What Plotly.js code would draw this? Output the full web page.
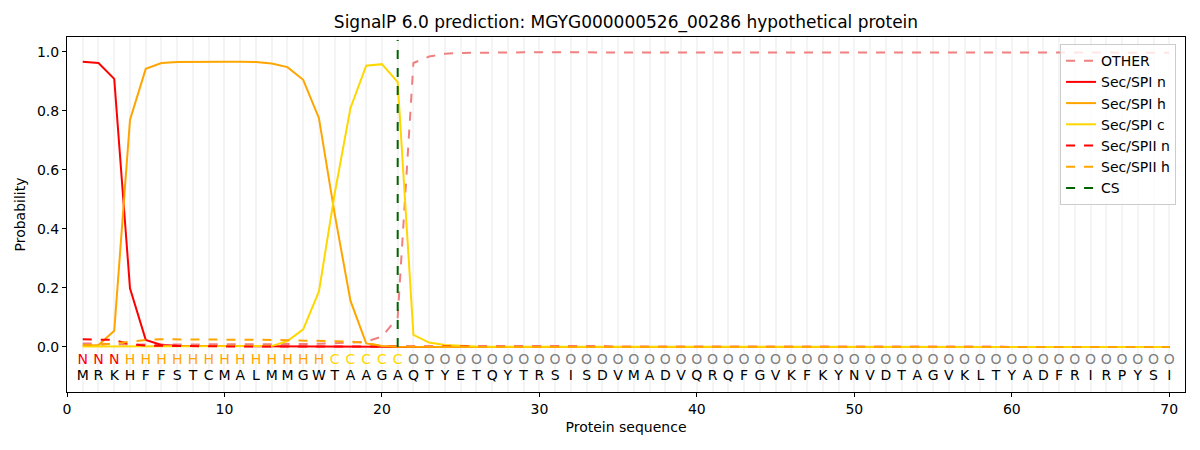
<!DOCTYPE html>
<html>
<head>
<meta charset="utf-8">
<script src="https://cdn.plot.ly/plotly-3.0.1.min.js"></script>
<style>html,body{margin:0;padding:0;background:#fff;}#chart{width:1200px;height:450px;}</style>
</head>
<body>
<div id="chart"></div>
<script>
const sequence = "MRKHFFSTCMALMMGWTAAGAQTYETQYTRSISDVMADVQRQFGVKFKYNVDTAGVKLTYADFRIRPYSI".split("");
const labels = "NNNHHHHHHHHHHHHHCCCCCOOOOOOOOOOOOOOOOOOOOOOOOOOOOOOOOOOOOOOOOOOOOOOOOO".split("");
const positions = sequence.map((_, i) => i + 1);

const other = [0.012,0.012,0.010,0.008,0.008,0.008,0.008,0.009,0.009,0.009,
  0.010,0.010,0.010,0.010,0.010,0.011,0.012,0.015,0.018,0.035,
  0.100,0.962,0.984,0.993,0.996,0.997,0.998,0.998,0.998,0.998,
  0.998,0.998,0.998,0.998,0.998,0.998,0.998,0.998,0.998,0.998,
  0.998,0.998,0.998,0.998,0.998,0.998,0.998,0.998,0.998,0.998,
  0.998,0.998,0.998,0.998,0.998,0.998,0.998,0.998,0.998,0.998,
  0.998,0.998,0.997,0.997,0.997,0.997,0.997,0.997,0.997,0.997];
const spiN = [0.966,0.962,0.908,0.199,0.024,0.007,0.004,0.003,0.003,0.003,
  0.003,0.003,0.003,0.003,0.003,0.003,0.002,0.002,0.002,0.001,
  0.000,0,0,0,0,0,0,0,0,0,0,0,0,0,0,0,0,0,0,0,0,0,0,0,0,0,0,0,0,0,
  0,0,0,0,0,0,0,0,0,0,0,0,0,0,0,0,0,0,0,0];
const spiH = [0.003,0.007,0.055,0.769,0.942,0.962,0.965,0.966,0.966,0.966,
  0.966,0.965,0.960,0.948,0.905,0.775,0.450,0.157,0.012,0.003,
  0.001,0,0,0,0,0,0,0,0,0,0,0,0,0,0,0,0,0,0,0,0,0,0,0,0,0,0,0,0,0,
  0,0,0,0,0,0,0,0,0,0,0,0,0,0,0,0,0,0,0,0];
const spiC = [0.002,0.002,0.002,0.002,0.002,0.002,0.002,0.002,0.002,0.002,
  0.002,0.002,0.003,0.020,0.060,0.188,0.520,0.809,0.953,0.958,
  0.897,0.041,0.015,0.007,0.004,0.002,0.001,0.001,0,0,0,0,0,0,0,0,0,0,0,0,
  0,0,0,0,0,0,0,0,0,0,0,0,0,0,0,0,0,0,0,0,0,0,0,0,0,0,0,0,0,0];
const spiiN = [0.026,0.026,0.024,0.009,0.005,0.004,0.003,0.003,0.002,0.002,
  0.002,0.002,0.002,0.002,0.002,0.002,0.002,0.001,0.001,0.001,
  0,0,0,0,0,0,0,0,0,0,0,0,0,0,0,0,0,0,0,0,0,0,0,0,0,0,0,0,0,0,
  0,0,0,0,0,0,0,0,0,0,0,0,0,0,0,0,0,0,0,0];
const spiiH = [0.007,0.007,0.012,0.018,0.024,0.026,0.026,0.026,0.025,0.025,
  0.024,0.024,0.024,0.023,0.022,0.021,0.020,0.018,0.014,0.003,
  0.001,0,0,0,0,0,0,0,0,0,0,0,0,0,0,0,0,0,0,0,0,0,0,0,0,0,0,0,0,0,
  0,0,0,0,0,0,0,0,0,0,0,0,0,0,0,0,0,0,0,0];
const csPos = 21;
const csTop = 1.04;
const xTicks = [0,10,20,30,40,50,60,70];
const yTicks = [0,0.2,0.4,0.6,0.8,1.0];

const labelColors = {N:"#ff0000", H:"#ffa500", C:"#ffd700", O:"#808080"};
const font = "DejaVu Sans, sans-serif";

function line(name, y, color, dash) {
  return {x: positions, y: y, name: name, type: "scatter", mode: "lines",
    line: {color: color, width: 2, dash: dash || "solid"}};
}

const traces = [
  line("OTHER", other, "#f08080", "dash"),
  line("Sec/SPI n", spiN, "#ff0000"),
  line("Sec/SPI h", spiH, "#ffa500"),
  line("Sec/SPI c", spiC, "#ffd700"),
  line("Sec/SPII n", spiiN, "#ff0000", "dash"),
  line("Sec/SPII h", spiiH, "#ffa500", "dash"),
  {x: [csPos, csPos], y: [0, csTop], name: "CS", type: "scatter", mode: "lines",
    line: {color: "#006400", width: 2, dash: "dash"}},
  {x: positions, y: positions.map(() => -0.047), type: "scatter", mode: "text",
    text: labels, showlegend: false, hoverinfo: "skip",
    textfont: {family: font, size: 14, color: labels.map(l => labelColors[l])}},
  {x: positions, y: positions.map(() => -0.101), type: "scatter", mode: "text",
    text: sequence, showlegend: false, hoverinfo: "skip",
    textfont: {family: font, size: 14, color: "#000"}}
];

const layout = {
  width: 1200, height: 450,
  margin: {l: 67, r: 15, t: 37, b: 58},
  paper_bgcolor: "#fff", plot_bgcolor: "#fff",
  font: {family: font, size: 14, color: "#000"},
  title: {text: "SignalP 6.0 prediction: MGYG000000526_00286 hypothetical protein",
    font: {family: font, size: 17, color: "#000"}, x: 0.5, xanchor: "center",
    xref: "paper", y: 0.95, yanchor: "middle"},
  xaxis: {range: [0, 71], tickvals: xTicks, ticktext: xTicks.map(String),
    ticks: "outside", ticklen: 4, tickcolor: "#000", showline: true, linecolor: "#000",
    mirror: true, linewidth: 1, zeroline: false,
    showgrid: true, gridcolor: "#f4f4f4", gridwidth: 2,
    minor: {dtick: 1, tick0: 0, showgrid: true, gridcolor: "#f4f4f4", gridwidth: 2, ticks: ""},
    tickfont: {family: font, size: 14},
    title: {text: "Protein sequence", font: {family: font, size: 14}, standoff: 6}},
  yaxis: {range: [-0.1525, 1.05], tickvals: yTicks, ticktext: yTicks.map(v => v.toFixed(1)),
    ticks: "outside", ticklen: 4, tickcolor: "#000", showline: true, linecolor: "#000",
    mirror: true, linewidth: 1, zeroline: false, showgrid: false,
    tickfont: {family: font, size: 14},
    title: {text: "Probability", font: {family: font, size: 14}, standoff: 8}},
  legend: {x: 0.992, y: 0.98, xanchor: "right", yanchor: "top",
    bgcolor: "rgba(255,255,255,0.8)", bordercolor: "#cccccc", borderwidth: 1,
    font: {family: font, size: 14}, tracegroupgap: 0, itemwidth: 30},
  showlegend: true
};

Plotly.newPlot("chart", traces, layout, {displayModeBar: false, staticPlot: true});
</script>
</body>
</html>
